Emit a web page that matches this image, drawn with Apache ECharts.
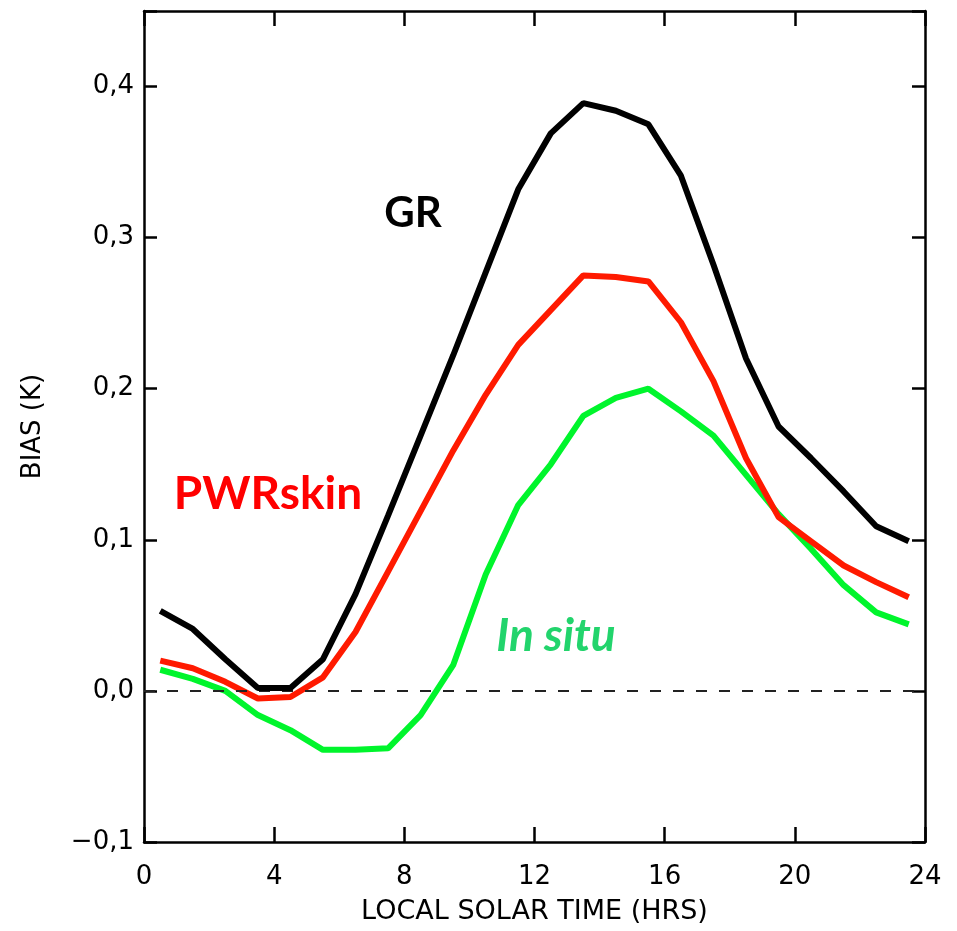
<!DOCTYPE html>
<html>
<head>
<meta charset="utf-8">
<title>Bias vs local solar time</title>
<script src="https://cdn.jsdelivr.net/npm/echarts@6/dist/echarts.min.js"></script>
<style>
  html, body { margin: 0; padding: 0; background: #fff; }
  #main { width: 957px; height: 931px; }
</style>
</head>
<body>
<div id="main"></div>
<script>
// local solar time (hrs), one value per hour bin
var hours = [0.5, 1.5, 2.5, 3.5, 4.5, 5.5, 6.5, 7.5, 8.5, 9.5, 10.5, 11.5,
             12.5, 13.5, 14.5, 15.5, 16.5, 17.5, 18.5, 19.5, 20.5, 21.5, 22.5, 23.5];
// bias (K)
var grBias = [0.053, 0.041, 0.021, 0.002, 0.002, 0.021, 0.064, 0.116, 0.169, 0.222, 0.277, 0.332,
              0.369, 0.389, 0.384, 0.375, 0.341, 0.282, 0.220, 0.175, 0.154, 0.132, 0.109, 0.099];
var pwrBias = [0.020, 0.015, 0.006, -0.005, -0.004, 0.009, 0.039, 0.079, 0.119, 0.159, 0.196, 0.229,
               0.252, 0.275, 0.274, 0.271, 0.244, 0.205, 0.154, 0.115, 0.099, 0.083, 0.072, 0.062];
var insituBias = [0.014, 0.008, 0.000, -0.016, -0.026, -0.039, -0.039, -0.038, -0.016, 0.017, 0.077, 0.123,
                  0.150, 0.182, 0.194, 0.200, 0.185, 0.169, 0.143, 0.117, 0.094, 0.070, 0.052, 0.044];
var xTicks = [0, 4, 8, 12, 16, 20, 24];
var yTicks = [-0.1, 0.0, 0.1, 0.2, 0.3, 0.4];

function pairs(xs, ys) {
  var out = [];
  for (var i = 0; i < xs.length; i++) out.push([xs[i], ys[i]]);
  return out;
}

function yLabel(v) {
  // only the round tenths get a label, comma as decimal mark
  for (var i = 0; i < yTicks.length; i++) {
    if (Math.abs(v - yTicks[i]) < 1e-9) {
      return v.toFixed(1).replace('.', ',').replace('-', '\u2212');
    }
  }
  return '';
}

var tickFont = { fontFamily: 'DejaVu Sans', fontSize: 26, color: '#000' };
var frameLine = { show: true, onZero: false, lineStyle: { color: '#000', width: 2.5 } };
var tickStyle = { color: '#000', width: 2.5 };

var chart = echarts.init(document.getElementById('main'));
var option = {
  animation: false,
  backgroundColor: '#fff',
  grid: { left: 144, right: 32, top: 11, bottom: 89 },
  xAxis: [{
    type: 'value', position: 'bottom', min: 0, max: 24, interval: 4,
    axisLine: frameLine,
    axisTick: { show: true, inside: true, length: 15, lineStyle: tickStyle },
    axisLabel: Object.assign({ margin: 22, formatter: function (v) { return xTicks.indexOf(v) >= 0 ? String(v) : ''; } }, tickFont),
    splitLine: { show: false },
    name: 'LOCAL SOLAR TIME (HRS)', nameLocation: 'middle', nameGap: 56,
    nameTextStyle: { fontFamily: 'DejaVu Sans', fontSize: 27, color: '#000' }
  }, {
    type: 'value', position: 'top', min: 0, max: 24, interval: 4,
    axisLine: frameLine,
    axisTick: { show: true, inside: true, length: 15, lineStyle: tickStyle },
    axisLabel: { show: false },
    splitLine: { show: false }
  }],
  yAxis: [{
    type: 'value', position: 'left', min: -0.1, max: 0.45, interval: 0.1,
    axisLine: frameLine,
    axisTick: { show: true, inside: true, length: 13, lineStyle: tickStyle },
    axisLabel: Object.assign({ margin: 10, formatter: yLabel }, tickFont),
    splitLine: { show: false },
    name: 'BIAS (K)', nameLocation: 'middle', nameGap: 98, nameRotate: 90,
    nameTextStyle: { fontFamily: 'DejaVu Sans', fontSize: 26, color: '#000' }
  }, {
    type: 'value', position: 'right', min: -0.1, max: 0.45, interval: 0.1,
    axisLine: frameLine,
    axisTick: { show: true, inside: true, length: 13, lineStyle: tickStyle },
    axisLabel: { show: false },
    splitLine: { show: false }
  }],
  series: [{
    name: 'In situ', type: 'line', data: pairs(hours, insituBias),
    showSymbol: false, lineStyle: { color: '#00f52c', width: 6 }, z: 3,
    markLine: {
      silent: true, symbol: 'none', label: { show: false },
      lineStyle: { color: '#222', width: 1.8, type: [11, 12] },
      data: [{ yAxis: 0 }]
    }
  }, {
    name: 'PWRskin', type: 'line', data: pairs(hours, pwrBias),
    showSymbol: false, lineStyle: { color: '#ff1a00', width: 6 }, z: 4
  }, {
    name: 'GR', type: 'line', data: pairs(hours, grBias),
    showSymbol: false, lineStyle: { color: '#000', width: 6 }, z: 5
  }],
  graphic: [{
    type: 'text', x: 413, y: 213,
    style: { text: 'GR', fill: '#000', font: 'bold 42px Lato', textAlign: 'center', textVerticalAlign: 'middle' }
  }, {
    type: 'text', x: 268, y: 494,
    style: { text: 'PWRskin', fill: '#ff0000', font: 'bold 46px Lato', textAlign: 'center', textVerticalAlign: 'middle' }
  }, {
    type: 'text', x: 556, y: 636,
    style: { text: 'In situ', fill: '#22d46c', font: 'italic bold 46px Lato', textAlign: 'center', textVerticalAlign: 'middle' }
  }]
};
chart.setOption(option);
window.onresize = chart.resize;
</script>
</body>
</html>
